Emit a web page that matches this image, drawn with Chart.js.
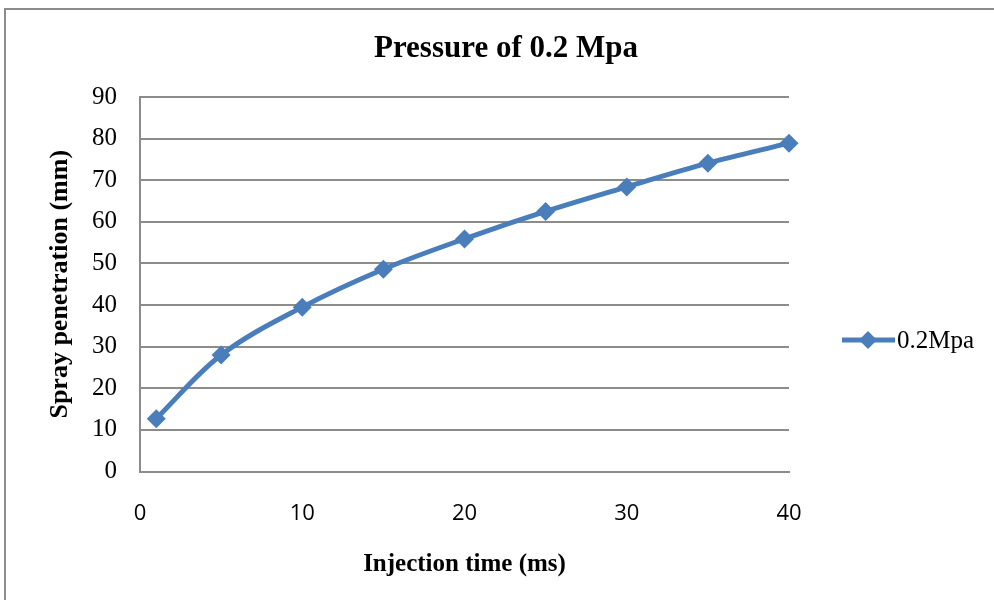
<!DOCTYPE html>
<html>
<head>
<meta charset="utf-8">
<title>Pressure of 0.2 Mpa</title>
<script src="https://cdn.jsdelivr.net/npm/chart.js@4/dist/chart.umd.min.js"></script>
<style>
  html, body { margin: 0; padding: 0; background: #fff; }
  #wrap { width: 994px; height: 600px; position: relative; }
</style>
</head>
<body>
<div id="wrap"><canvas id="sprayChart" width="994" height="600"></canvas></div>
<script>
"use strict";
// values
const injectionTimes = [1, 5, 10, 15, 20, 25, 30, 35, 40];
const penetration = [12.7, 28, 39.5, 48.6, 55.9, 62.5, 68.4, 74.1, 78.9];
const xTicks = [0, 10, 20, 30, 40];
const yTicks = [0, 10, 20, 30, 40, 50, 60, 70, 80, 90];
const seriesName = '0.2Mpa';
const chartTitle = 'Pressure of 0.2 Mpa';

const blue = '#4a7ebb';
const gridGray = '#8c8c8c';
const serif = '"Liberation Serif", "Times New Roman", serif';

// title, frame and legend drawn by hand so they sit where Excel put them
const decorations = {
    id: 'decorations',
    afterDraw(chart) {
        const ctx = chart.ctx;
        ctx.save();
        ctx.strokeStyle = gridGray;
        ctx.lineWidth = 2;
        ctx.beginPath();
        ctx.moveTo(5, 600);
        ctx.lineTo(5, 9);
        ctx.lineTo(994, 9);
        ctx.stroke();

        ctx.fillStyle = '#000';
        ctx.font = 'bold 31px ' + serif;
        ctx.textAlign = 'center';
        ctx.textBaseline = 'middle';
        ctx.fillText(chartTitle, 506, 49);

        // legend entry: line + diamond + label
        const ly = 340;
        ctx.strokeStyle = blue;
        ctx.lineWidth = 5;
        ctx.beginPath();
        ctx.moveTo(842, ly);
        ctx.lineTo(895, ly);
        ctx.stroke();
        ctx.fillStyle = blue;
        ctx.beginPath();
        ctx.moveTo(868, ly - 9);
        ctx.lineTo(877, ly);
        ctx.lineTo(868, ly + 9);
        ctx.lineTo(859, ly);
        ctx.closePath();
        ctx.fill();
        ctx.fillStyle = '#000';
        ctx.font = '25px ' + serif;
        ctx.textAlign = 'left';
        ctx.fillText(seriesName, 897, ly + 1);
        ctx.restore();
    }
};

document.addEventListener('DOMContentLoaded', function () {
    const ctx = document.getElementById('sprayChart').getContext('2d');
    new Chart(ctx, {
        type: 'line',
        data: {
            datasets: [{
                label: seriesName,
                data: injectionTimes.map((t, i) => ({ x: t, y: penetration[i] })),
                borderColor: blue,
                backgroundColor: blue,
                borderWidth: 5,
                tension: 0.35,
                clip: false,
                pointStyle: 'rectRot',
                pointRadius: 9.5,
                pointHoverRadius: 9.5,
                pointBorderWidth: 0,
                pointBackgroundColor: blue
            }]
        },
        options: {
            responsive: false,
            animation: false,
            layout: { padding: { left: 45, right: 205, top: 97, bottom: 16 } },
            plugins: {
                legend: { display: false },
                title: { display: false },
                tooltip: { enabled: false }
            },
            scales: {
                x: {
                    type: 'linear',
                    min: 0,
                    max: 40,
                    afterBuildTicks: (scale) => { scale.ticks = xTicks.map(v => ({ value: v })); },
                    afterFit: (scale) => { scale.height = 112.5; },
                    grid: { display: false, drawTicks: false },
                    border: { color: gridGray, width: 2 },
                    ticks: {
                        padding: 29,
                        color: '#000',
                        font: { family: '"Open Sans", sans-serif', size: 22 }
                    },
                    title: {
                        display: true,
                        text: 'Injection time (ms)',
                        color: '#000',
                        padding: 4,
                        font: { family: serif, size: 25, weight: 'bold' }
                    }
                },
                y: {
                    min: 0,
                    max: 90,
                    afterBuildTicks: (scale) => { scale.ticks = yTicks.map(v => ({ value: v })); },
                    afterFit: (scale) => { scale.width = 95; },
                    grid: { color: gridGray, lineWidth: 2, drawTicks: false },
                    border: { color: gridGray, width: 2 },
                    ticks: {
                        padding: 23,
                        color: '#000',
                        font: { family: serif, size: 25 }
                    },
                    title: {
                        display: true,
                        text: 'Spray penetration (mm)',
                        color: '#000',
                        padding: 0,
                        font: { family: serif, size: 26, weight: 'bold' }
                    }
                }
            }
        },
        plugins: [decorations]
    });
});
</script>
</body>
</html>
